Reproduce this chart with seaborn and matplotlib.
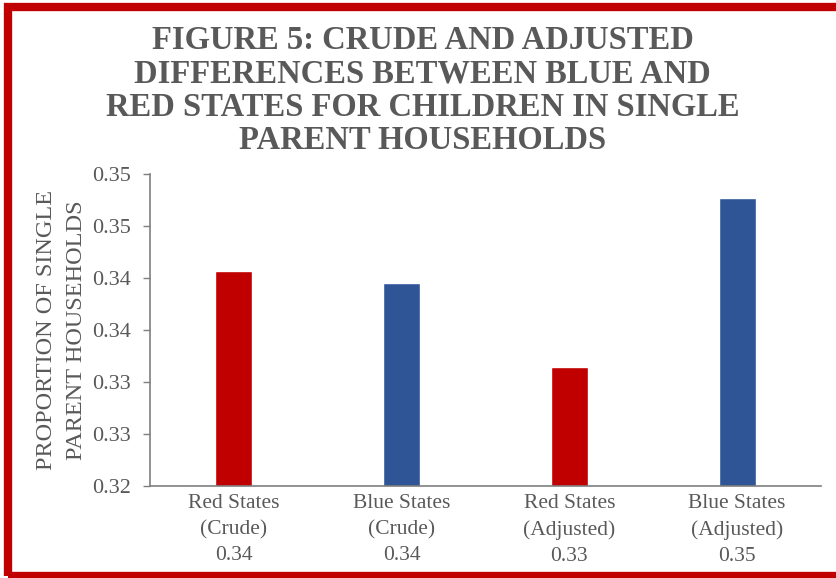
import matplotlib
matplotlib.use("Agg")
import matplotlib.pyplot as plt
import seaborn as sns
import pandas as pd
from matplotlib.patches import Rectangle

categories = ["Red States\n(Crude)\n0.34", "Blue States\n(Crude)\n0.34",
              "Red States\n(Adjusted)\n0.33", "Blue States\n(Adjusted)\n0.35"]
values = [0.3407, 0.3395, 0.3314, 0.3477]
bar_colors = ["#C00000", "#2F5597", "#C00000", "#2F5597"]
y_ticks = [0.320, 0.325, 0.330, 0.335, 0.340, 0.345, 0.350]
y_tick_labels = ["0.32", "0.33", "0.33", "0.34", "0.34", "0.35", "0.35"]
title = "FIGURE 5: CRUDE AND ADJUSTED\nDIFFERENCES BETWEEN BLUE AND\nRED STATES FOR CHILDREN IN SINGLE\nPARENT HOUSEHOLDS"
ylabel = "PROPORTION OF SINGLE\nPARENT HOUSEHOLDS"

sns.set_theme(style="white")
plt.rcParams['font.family'] = ['Liberation Serif', 'DejaVu Serif']

grey = "#595959"
df = pd.DataFrame({"cat": categories, "val": values})

fig = plt.figure(figsize=(8.37, 5.78), dpi=100)
ax = fig.add_axes([150/837, 1-486/578, (821-150)/837, (486-174)/578])
sns.barplot(data=df, x="cat", y="val", hue="cat", palette=bar_colors,
            legend=False, width=0.22, ax=ax, saturation=1)

ax.set_ylim(0.320, 0.350)
ax.set_yticks(y_ticks)
ax.set_yticklabels(y_tick_labels)
ax.tick_params(axis='y', which='both', left=True, length=5, width=1, color="#7f7f7f",
               labelsize=16, labelcolor=grey, pad=9, direction='out')
ax.tick_params(axis='x', bottom=False, labelsize=15.5, labelcolor=grey, pad=0)
for lab in ax.get_xticklabels():
    lab.set_linespacing(1.47)
ax.set_xlabel("")
ax.set_ylabel(ylabel, fontsize=17.5, color=grey, linespacing=1.55, labelpad=3.5)
sns.despine(ax=ax)
ax.spines['left'].set_color("#7f7f7f")
ax.spines['bottom'].set_color("#7f7f7f")
ax.spines['left'].set_linewidth(1.2)
ax.spines['bottom'].set_linewidth(1.2)

fig.text(0.505, 1-25/578, title, ha='center', va='top', fontsize=23.5,
         fontweight='bold', color=grey, linespacing=1.1)

fig.patches.append(Rectangle((8/837, 1-576/578), (840-8)/837, (576-6.5)/578,
                             transform=fig.transFigure, fill=False,
                             edgecolor="#C00000", linewidth=6, zorder=10))

fig.savefig("out.png", dpi=100)
